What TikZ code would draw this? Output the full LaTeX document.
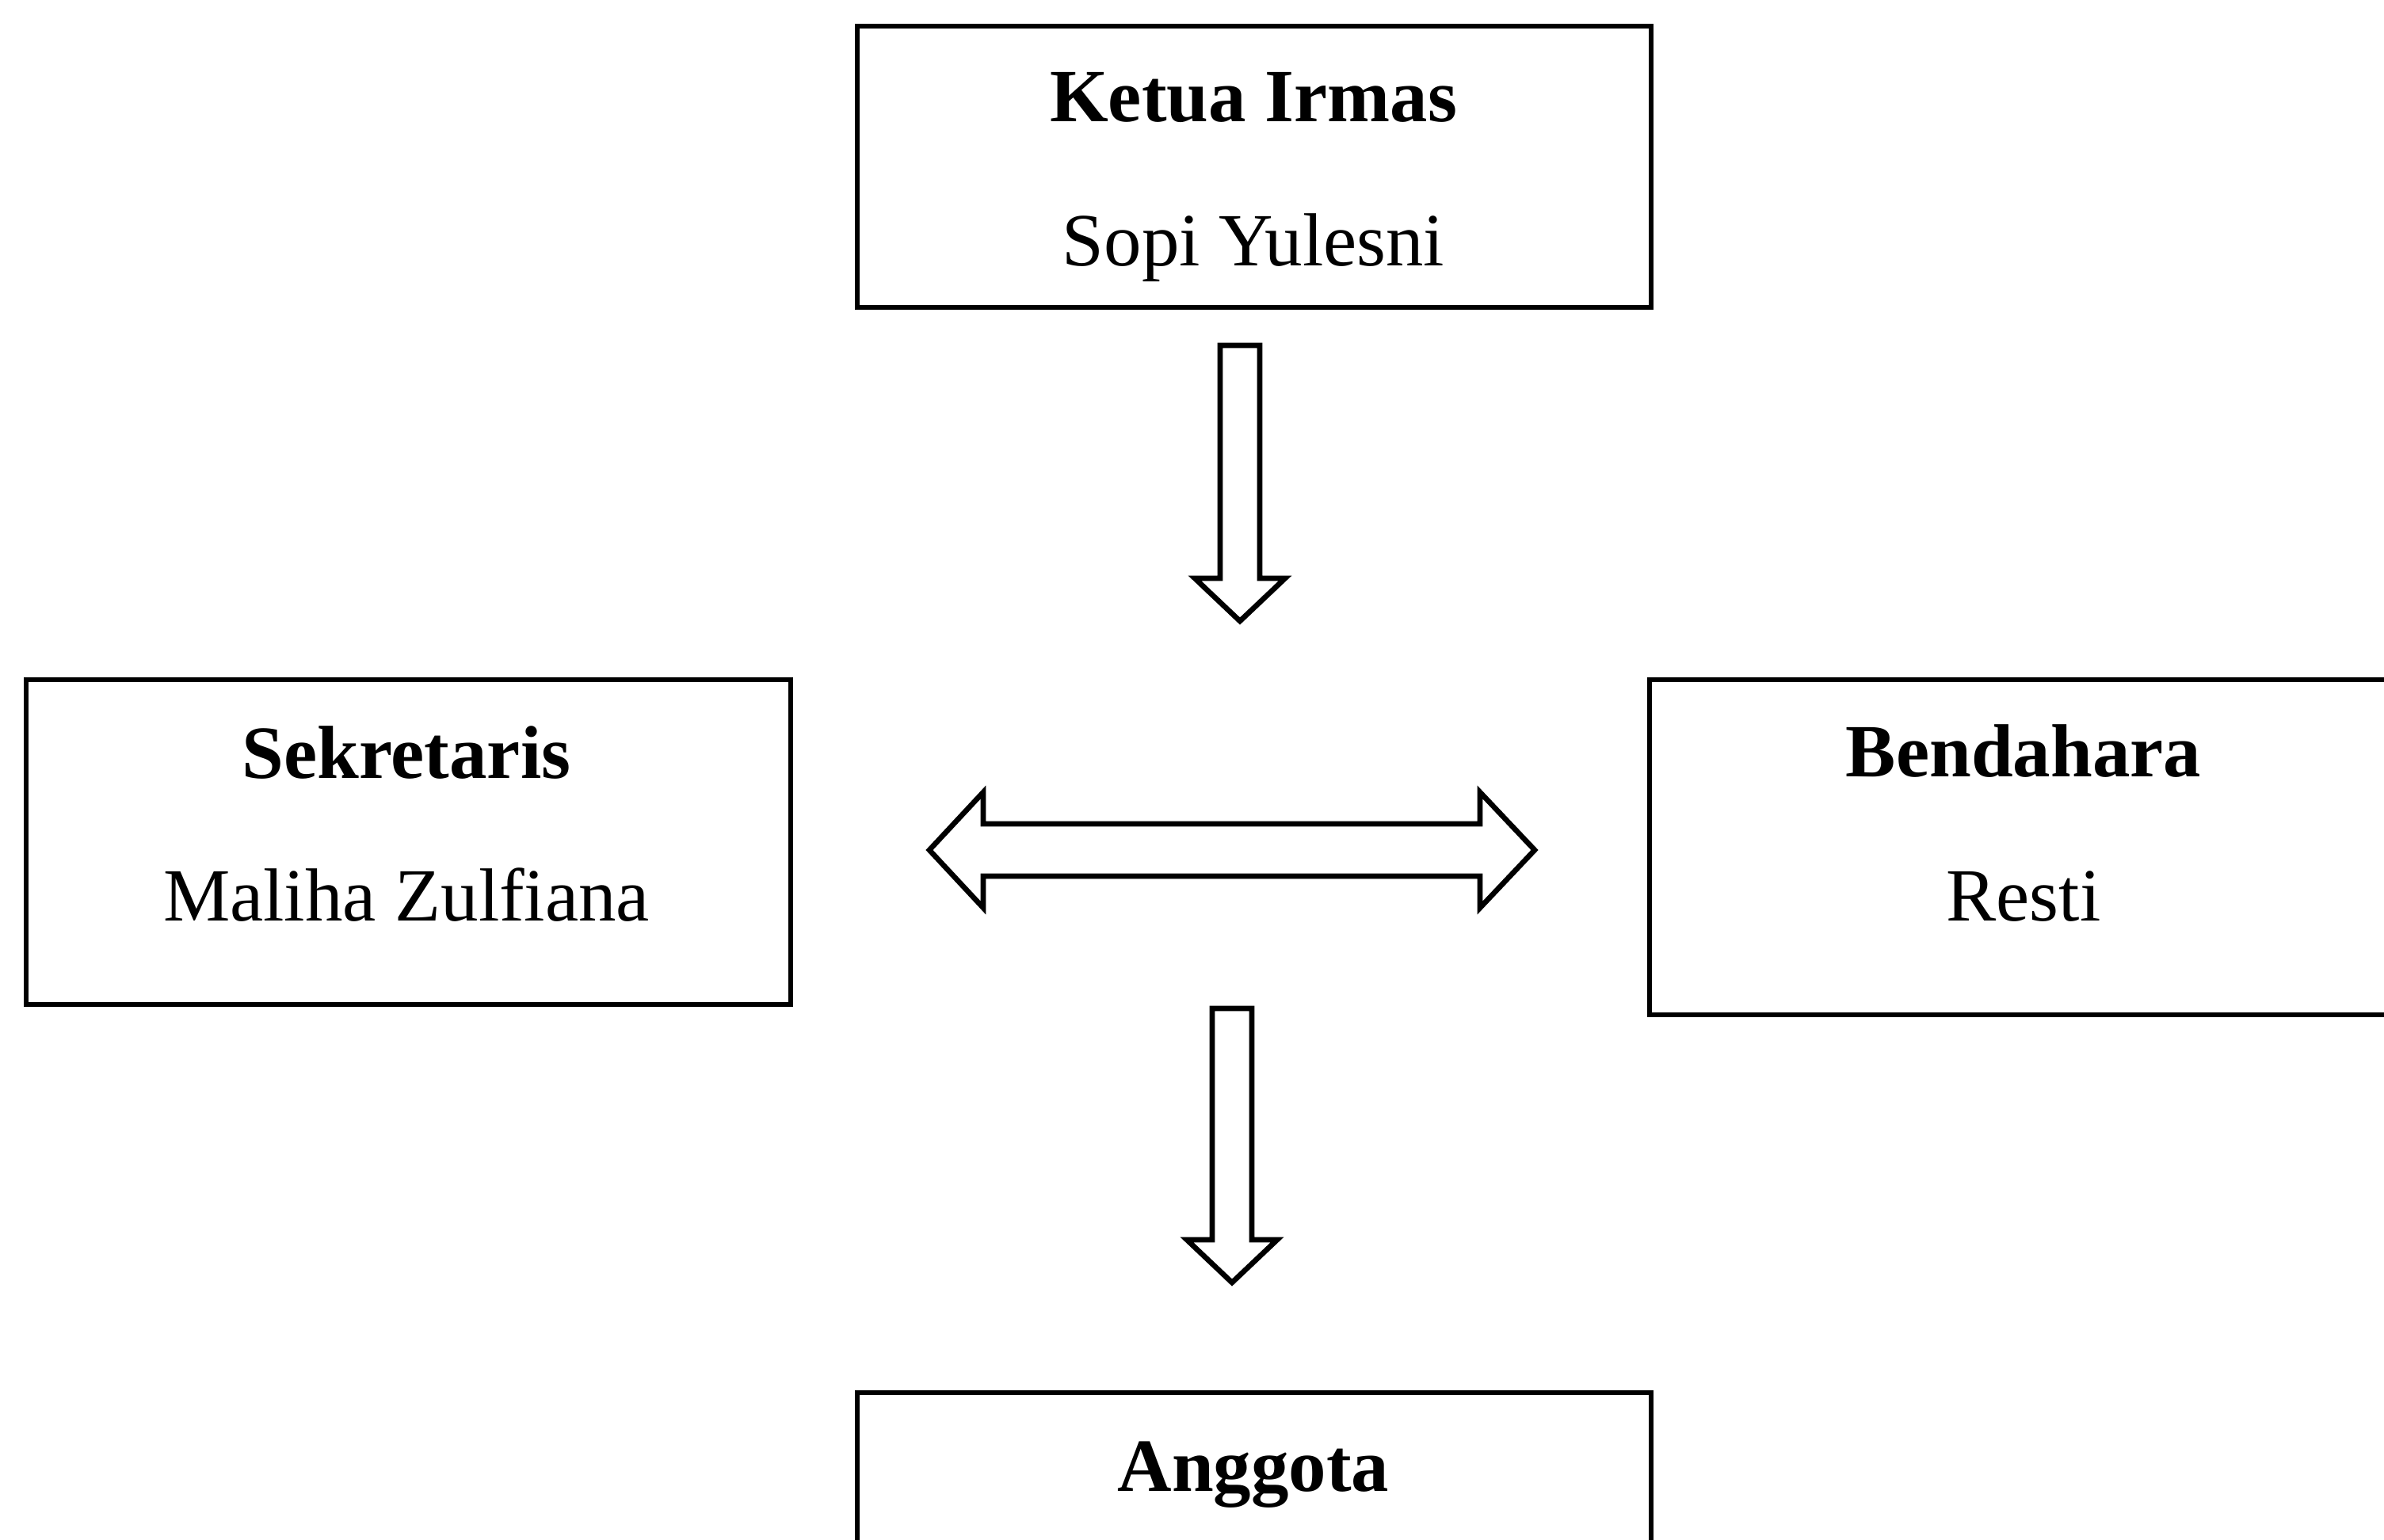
\documentclass[tikz,border=0pt]{standalone}
\usepackage{fontspec}
\setmainfont{Liberation Serif}
\begin{document}
\begin{tikzpicture}[scale=0.1]
\tikzstyle{every node}+=[inner sep=0pt]
\tikzstyle{kotak}=[draw=black, line width=1.8pt, rectangle]
\tikzstyle{jabatan}=[anchor=base, font=\fontsize{27}{32}\selectfont\bfseries]
\tikzstyle{nama}=[anchor=base, font=\fontsize{27}{32}\selectfont]
\tikzstyle{panah}=[draw=black, line width=1.9pt, line join=miter, fill=white]
\useasboundingbox (0,0) rectangle (300.9,-194.4);
\clip (0,0) rectangle (300.9,-194.4);
% kotak
\node [kotak, minimum width=10.02cm, minimum height=3.55cm] (ketua) at (158.3,-21.05) {};
\node [kotak, minimum width=9.65cm, minimum height=4.10cm] (sekretaris) at (51.55,-106.3) {};
\node [kotak, minimum width=9.44cm, minimum height=4.23cm] (bendahara) at (255.4,-106.95) {};
\node [kotak, minimum width=10.02cm, minimum height=3.55cm] (anggota) at (158.3,-193.55) {};
% teks
\node [jabatan] (ketuaJ) at (158.2,-15.3) {Ketua Irmas};
\node [nama] (ketuaN) at (158.2,-33.5) {Sopi Yulesni};
\node [jabatan] (sekretarisJ) at (51.3,-98.2) {Sekretaris};
\node [nama] (sekretarisN) at (51.3,-116.2) {Maliha Zulfiana};
\node [jabatan] (bendaharaJ) at (255.4,-98.0) {Bendahara};
\node [nama] (bendaharaN) at (255.4,-116.2) {Resti};
\node [jabatan] (anggotaJ) at (158.2,-188.2) {Anggota};
% panah
\draw [panah] (154.0,-43.6) -- (159.0,-43.6) -- (159.0,-73.0) -- (162.2,-73.0) -- (156.5,-78.4) -- (150.8,-73.0) -- (154.0,-73.0) -- cycle;
\draw [panah] (117.3,-107.3) -- (124.1,-100.0) -- (124.1,-104.0) -- (186.8,-104.0) -- (186.8,-100.0) -- (193.7,-107.3) -- (186.8,-114.6) -- (186.8,-110.6) -- (124.1,-110.6) -- (124.1,-114.6) -- cycle;
\draw [panah] (153.0,-127.3) -- (158.0,-127.3) -- (158.0,-156.5) -- (161.2,-156.5) -- (155.5,-161.9) -- (149.8,-156.5) -- (153.0,-156.5) -- cycle;
\end{tikzpicture}
\end{document}
